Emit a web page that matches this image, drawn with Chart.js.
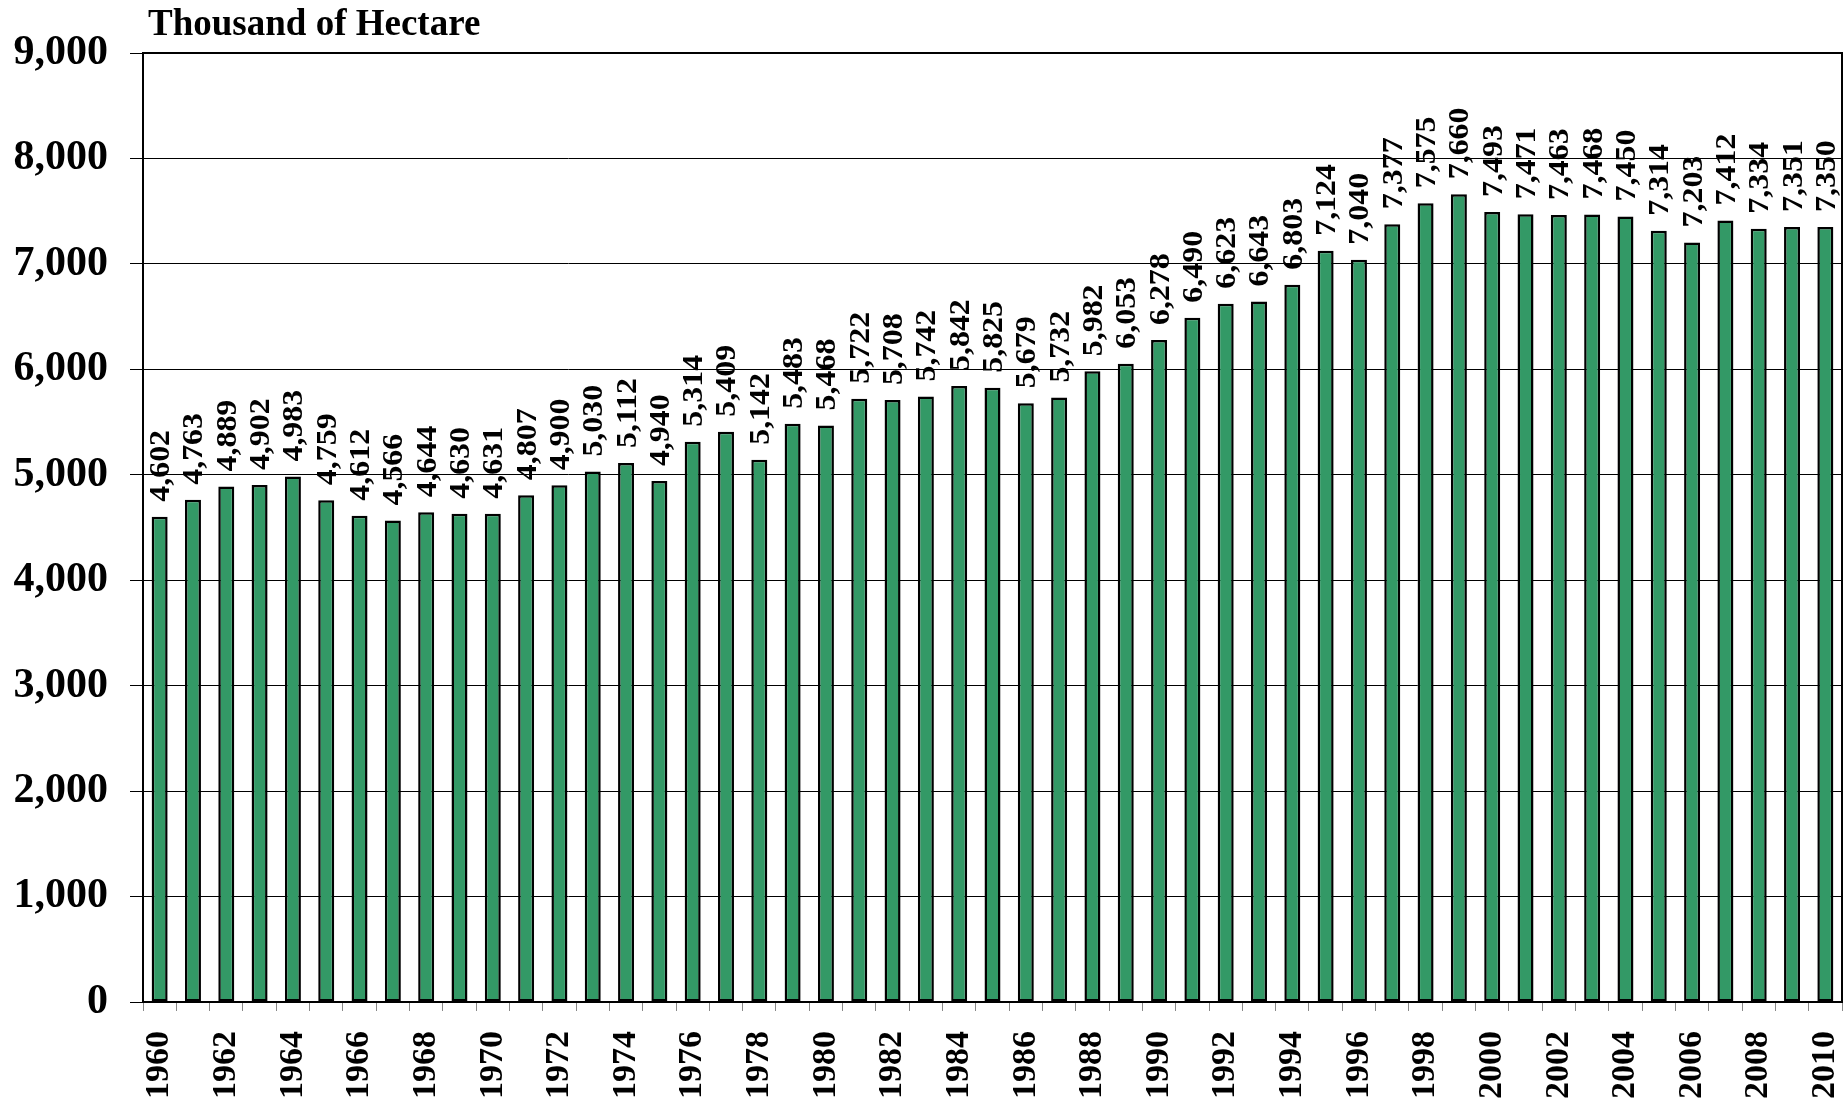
<!DOCTYPE html>
<html>
<head>
<meta charset="utf-8">
<title>Thousand of Hectare</title>
<script src="https://cdn.jsdelivr.net/npm/chart.js@4"></script>
<style>
    html, body { margin: 0; padding: 0; background: #ffffff; }
    #wrap { width: 1844px; height: 1105px; position: relative; }
</style>
</head>
<body>
<div id="wrap"><canvas id="areaChart"></canvas></div>
<script>
// Data
const years = [
    1960, 1961, 1962, 1963, 1964, 1965, 1966, 1967, 1968, 1969,
    1970, 1971, 1972, 1973, 1974, 1975, 1976, 1977, 1978, 1979,
    1980, 1981, 1982, 1983, 1984, 1985, 1986, 1987, 1988, 1989,
    1990, 1991, 1992, 1993, 1994, 1995, 1996, 1997, 1998, 1999,
    2000, 2001, 2002, 2003, 2004, 2005, 2006, 2007, 2008, 2009, 2010
];
const hectares = [
    4602, 4763, 4889, 4902, 4983, 4759, 4612, 4566, 4644, 4630,
    4631, 4807, 4900, 5030, 5112, 4940, 5314, 5409, 5142, 5483,
    5468, 5722, 5708, 5742, 5842, 5825, 5679, 5732, 5982, 6053,
    6278, 6490, 6623, 6643, 6803, 7124, 7040, 7377, 7575, 7660,
    7493, 7471, 7463, 7468, 7450, 7314, 7203, 7412, 7334, 7351, 7350
];
const yTicks = [0, 1000, 2000, 3000, 4000, 5000, 6000, 7000, 8000, 9000];
const unitTitle = 'Thousand of Hectare';

const serif = "'Liberation Serif', 'Times New Roman', serif";

// Frame, unit title and rotated value labels
const decorPlugin = {
    id: 'decor',
    afterDatasetsDraw(chart) {
        const ctx = chart.ctx;
        const area = chart.chartArea;
        const meta = chart.getDatasetMeta(0);

        ctx.save();
        ctx.fillStyle = '#000';
        ctx.font = 'bold 29px ' + serif;
        ctx.textAlign = 'left';
        ctx.textBaseline = 'middle';
        meta.data.forEach((bar, i) => {
            const text = hectares[i].toLocaleString('en-US');
            ctx.save();
            ctx.translate(bar.x + 2, bar.y - 15);
            ctx.rotate(-Math.PI / 2);
            ctx.scale(1.1, 1);
            ctx.fillText(text, 0, 0);
            ctx.restore();
        });
        ctx.restore();

        ctx.save();
        ctx.strokeStyle = '#000';
        ctx.lineWidth = 2;
        ctx.strokeRect(area.left, area.top, area.right - area.left, area.bottom - area.top);
        ctx.restore();

        ctx.save();
        ctx.fillStyle = '#000';
        ctx.font = 'bold 37px ' + serif;
        ctx.textAlign = 'left';
        ctx.textBaseline = 'alphabetic';
        ctx.fillText(unitTitle, area.left + 5, area.top - 18);
        ctx.restore();
    }
};

const ctx = document.getElementById('areaChart').getContext('2d');
new Chart(ctx, {
    type: 'bar',
    data: {
        labels: years.map(String),
        datasets: [{
            label: unitTitle,
            data: hectares,
            backgroundColor: '#339966',
            borderColor: '#000000',
            borderWidth: 2.5,
            borderSkipped: false,
            barPercentage: 0.48,
            categoryPercentage: 1.0
        }]
    },
    options: {
        responsive: true,
        maintainAspectRatio: false,
        animation: false,
        layout: {
            padding: { top: 53, right: 2, left: 0, bottom: 0 }
        },
        plugins: {
            legend: { display: false },
            tooltip: { enabled: false }
        },
        scales: {
            x: {
                grid: {
                    offset: true,
                    drawOnChartArea: false,
                    drawTicks: true,
                    tickLength: 9,
                    color: '#888888'
                },
                border: { display: true, color: '#000000', width: 2 },
                ticks: {
                    autoSkip: false,
                    minRotation: 90,
                    maxRotation: 90,
                    padding: 20,
                    color: '#000000',
                    font: { family: serif, size: 34, weight: 'bold' },
                    callback: function(value, index) {
                        return index % 2 === 0 ? this.getLabelForValue(value) : '';
                    }
                },
                afterFit: function(scale) {
                    scale.height = 103;
                    scale.paddingLeft = 0;
                    scale.paddingRight = 0;
                }
            },
            y: {
                min: yTicks[0],
                max: yTicks[yTicks.length - 1],
                afterBuildTicks: function(scale) {
                    scale.ticks = yTicks.map(v => ({ value: v }));
                },
                grid: {
                    color: '#000000',
                    lineWidth: 1,
                    tickLength: 13
                },
                border: { display: true, color: '#000000', width: 2 },
                ticks: {
                    padding: 22,
                    color: '#000000',
                    font: { family: serif, size: 42, weight: 'bold' },
                    callback: function(value) {
                        return Number(value).toLocaleString('en-US');
                    }
                },
                afterFit: function(scale) { scale.width = 143; }
            }
        }
    },
    plugins: [decorPlugin]
});
</script>
</body>
</html>
